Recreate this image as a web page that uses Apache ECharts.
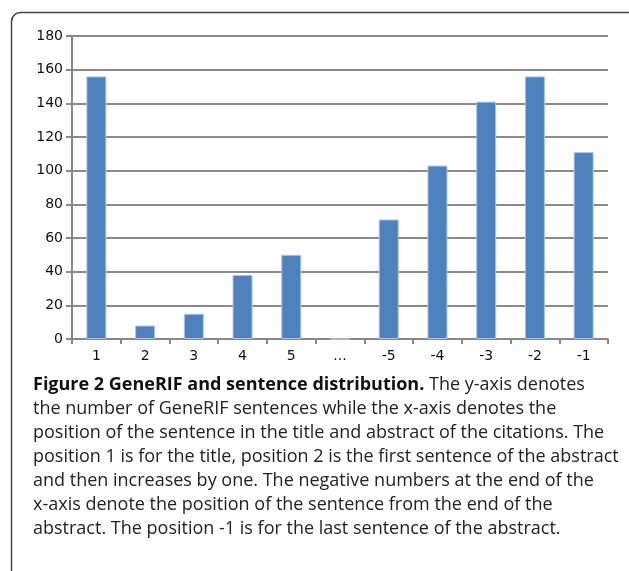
<!DOCTYPE html>
<html>
<head>
<meta charset="utf-8">
<script src="https://cdn.jsdelivr.net/npm/echarts@6/dist/echarts.min.js"></script>
<style>html,body{margin:0;padding:0;background:#fff}#c{width:629px;height:571px}</style>
</head>
<body>
<div id="c"></div>
<script>
const categories = ['1','2','3','4','5','...','-5','-4','-3','-2','-1'];
const counts = [156, 8, 15, 38, 50, 0, 71, 103, 141, 156, 111];
const yTicks = { min: 0, max: 180, interval: 20 };
const captionBold = 'Figure 2 GeneRIF and sentence distribution.';
const captionLines = [
  ' The y-axis denotes',
  'the number of GeneRIF sentences while the x-axis denotes the',
  'position of the sentence in the title and abstract of the citations. The',
  'position 1 is for the title, position 2 is the first sentence of the abstract',
  'and then increases by one. The negative numbers at the end of the',
  'x-axis denote the position of the sentence from the end of the',
  'abstract. The position -1 is for the last sentence of the abstract.'
];

const chart = echarts.init(document.getElementById('c'), null, {renderer: 'canvas'});
const capFont = '"Open Sans", sans-serif';
const capText = '{b|' + captionBold + '}{n|' + captionLines[0] + '}\n' +
  captionLines.slice(1).map(l => '{n|' + l + '}').join('\n');

chart.setOption({
  animation: false,
  backgroundColor: '#fff',
  grid: { left: 72, right: 21, top: 36, bottom: 232, containLabel: false },
  xAxis: {
    type: 'category',
    data: categories,
    boundaryGap: true,
    axisLine: { show: true, lineStyle: { color: '#888', width: 2 } },
    axisTick: { show: true, alignWithLabel: false, length: 5, lineStyle: { color: '#888', width: 2 } },
    axisLabel: { color: '#111', fontFamily: 'DejaVu Sans', fontSize: 14, margin: 10 }
  },
  yAxis: {
    type: 'value',
    min: yTicks.min, max: yTicks.max, interval: yTicks.interval,
    axisLine: { show: true, lineStyle: { color: '#888', width: 2 } },
    axisTick: { show: true, length: 6, lineStyle: { color: '#888', width: 2 } },
    axisLabel: { color: '#111', fontFamily: 'DejaVu Sans', fontSize: 14, margin: 9 },
    splitLine: { show: true, lineStyle: { color: '#8a8a8a', width: 2 } }
  },
  series: [{
    type: 'bar',
    data: counts,
    barWidth: 20,
    itemStyle: { color: '#4f81bd', borderColor: '#a9c3e6', borderWidth: 1 }
  }],
  graphic: [
    {
      type: 'rect',
      shape: { x: 11.5, y: 12.5, width: 700, height: 700, r: 9 },
      style: { fill: 'none', stroke: '#444', lineWidth: 1.5 },
      z: 0
    },
    {
      type: 'text',
      left: 33, top: 376,
      style: {
        text: capText,
        rich: {
          b: { fontFamily: capFont, fontWeight: 'bold', fontSize: 18, fill: '#111', lineHeight: 24 },
          n: { fontFamily: capFont, fontSize: 18, fill: '#222', lineHeight: 24 }
        }
      }
    }
  ]
});
</script>
</body>
</html>
